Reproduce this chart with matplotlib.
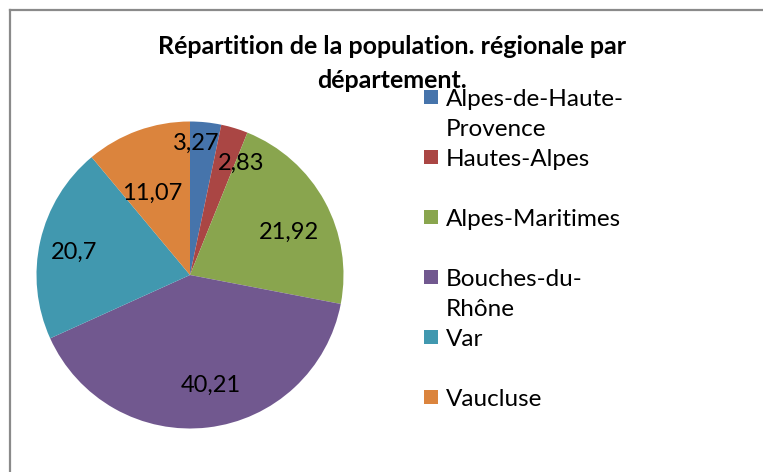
import numpy as np
import matplotlib
matplotlib.use('Agg')
import matplotlib.pyplot as plt
from matplotlib.patches import Rectangle
from matplotlib.lines import Line2D

# donnees
departements = ["Alpes-de-Haute-\nProvence", "Hautes-Alpes", "Alpes-Maritimes",
                "Bouches-du-\nRhône", "Var", "Vaucluse"]
population = [3.27, 2.83, 21.92, 40.21, 20.7, 11.07]
couleurs = ['#4674AB', '#AA4644', '#89A54E', '#71588F', '#4198AF', '#DB843D']
titre = ["Répartition de la population. régionale par", "département."]

plt.rcParams['font.family'] = ['Lato', 'DejaVu Sans']

W, H = 763, 472
fig = plt.figure(figsize=(W / 100, H / 100), dpi=100)


def fx(px):
    return px / W


def fy(py):
    return 1 - py / H


# cadre (seuls haut et gauche visibles)
fig.add_artist(Line2D([fx(9.5), 1.01], [fy(9.5), fy(9.5)], color='#8a8a8a', lw=1.6))
fig.add_artist(Line2D([fx(9.5), fx(9.5)], [fy(9.5), -0.01], color='#8a8a8a', lw=1.6))

# camembert
cx, cy, r = 190, 275, 153.5
ax = fig.add_axes([fx(cx - r), fy(cy + r), 2 * r / W, 2 * r / H])
wedges, _ = ax.pie(population, colors=couleurs, startangle=90, counterclock=False,
                   wedgeprops=dict(linewidth=0))
ax.set_xlim(-1, 1)
ax.set_ylim(-1, 1)

# placement des etiquettes (distance radiale, decalage angulaire)
dist = [0.86, 0.80, 0.70, 0.73, 0.77, 0.59]
decal = [3, -7.5, -5, 3.7, 1.7, 5]
for w, v, d, da in zip(wedges, population, dist, decal):
    ang = np.deg2rad((w.theta1 + w.theta2) / 2 + da)
    ax.text(d * np.cos(ang), d * np.sin(ang), f"{v:g}".replace('.', ','),
            ha='center', va='center', fontsize=17)

# titre
for i, ligne in enumerate(titre):
    fig.text(fx(392), fy(47 + 33 * i), ligne, ha='center', va='center',
             fontsize=18, fontweight='bold')

# legende
for i, (lab, col) in enumerate(zip(departements, couleurs)):
    yc = 97 + 60 * i
    fig.add_artist(Rectangle((fx(424), fy(yc + 7)), 14 / W, 14 / H,
                             facecolor=col, edgecolor='none'))
    for j, ligne in enumerate(lab.split('\n')):
        fig.text(fx(446), fy(yc + 31 * j), ligne, ha='left', va='center_baseline',
                 fontsize=17.5)

fig.savefig('out.png', dpi=100)
